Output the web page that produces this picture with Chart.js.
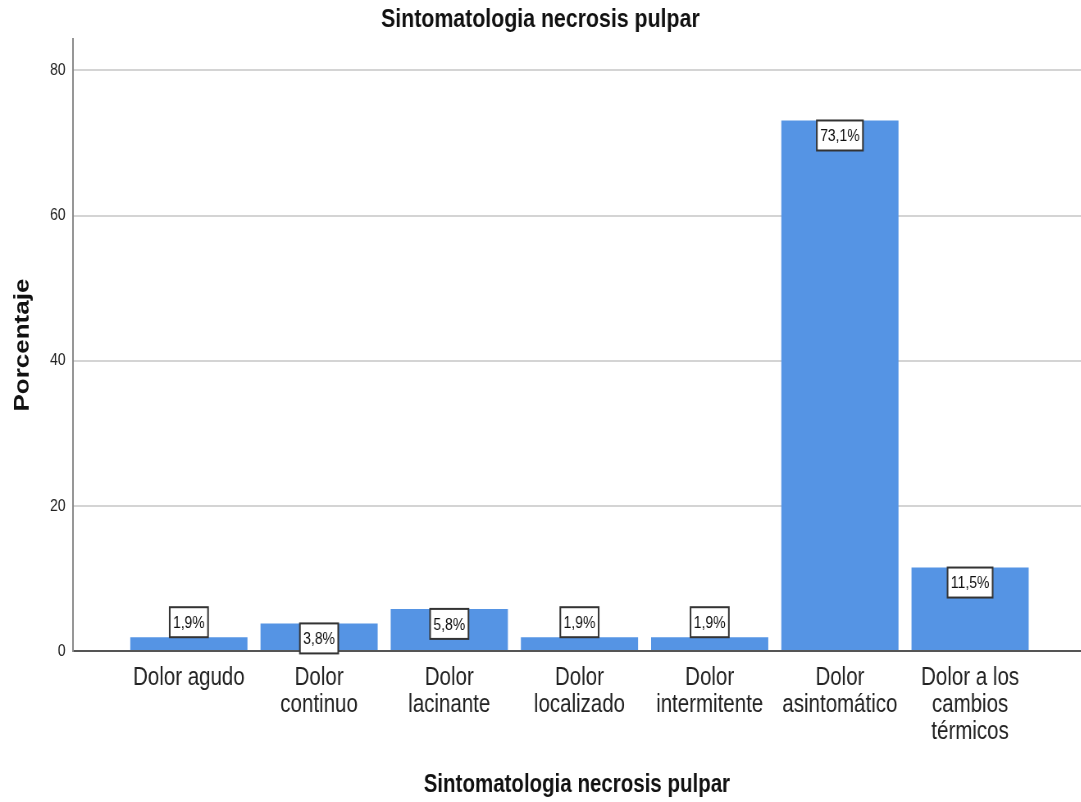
<!DOCTYPE html>
<html>
<head>
<meta charset="utf-8">
<script src="https://cdn.jsdelivr.net/npm/chart.js@4/dist/chart.umd.min.js"></script>
<style>
  html, body { margin: 0; padding: 0; background: #fff; overflow: hidden; }
  /* chart is laid out wide and squeezed horizontally, giving the condensed look */
  #wrap { width: 1318px; height: 802px; transform: scaleX(0.82); transform-origin: 0 0; }
</style>
</head>
<body>
<div id="wrap"><canvas id="chart"></canvas></div>
<script>
const categories = [
  ['Dolor agudo'],
  ['Dolor', 'continuo'],
  ['Dolor', 'lacinante'],
  ['Dolor', 'localizado'],
  ['Dolor', 'intermitente'],
  ['Dolor', 'asintomático'],
  ['Dolor a los', 'cambios', 'térmicos']
];
const percentages = [1.9, 3.8, 5.8, 1.9, 1.9, 73.1, 11.5];
const yTicks = [0, 20, 40, 60, 80];

const font = '"Liberation Sans", Arial, sans-serif';

// boxed value labels, put inside the bar top when it is tall enough
const valueBoxes = {
  id: 'valueBoxes',
  afterDatasetsDraw(chart) {
    const ctx = chart.ctx;
    const meta = chart.getDatasetMeta(0);
    ctx.save();
    ctx.font = '17px ' + font;
    ctx.textAlign = 'center';
    ctx.textBaseline = 'middle';
    meta.data.forEach((bar, i) => {
      const txt = percentages[i].toFixed(1).replace('.', ',') + '%';
      const w = ctx.measureText(txt).width + 8;
      const h = 30;
      const top = (bar.base - bar.y) >= 20 ? bar.y : bar.y - h;
      ctx.fillStyle = '#fff';
      ctx.fillRect(bar.x - w / 2, top, w, h);
      ctx.lineWidth = 2;
      ctx.strokeStyle = '#333';
      ctx.strokeRect(bar.x - w / 2, top, w, h);
      ctx.fillStyle = '#111';
      ctx.fillText(txt, bar.x, top + h / 2 + 1);
    });
    ctx.restore();
  }
};

new Chart(document.getElementById('chart'), {
  type: 'bar',
  data: {
    datasets: [{
      data: percentages.map((v, i) => ({ x: i, y: v })),
      backgroundColor: '#5594e4',
      borderWidth: 0,
      barPercentage: 0.9,
      categoryPercentage: 1
    }]
  },
  options: {
    responsive: true,
    maintainAspectRatio: false,
    animation: false,
    layout: { padding: 0 },
    plugins: {
      legend: { display: false },
      tooltip: { enabled: false },
      title: {
        display: true,
        text: 'Sintomatologia necrosis pulpar',
        color: '#111',
        font: { family: font, size: 26, weight: 'bold' },
        padding: { top: 4, bottom: 4 }
      }
    },
    scales: {
      x: {
        type: 'linear',
        offset: false,
        min: -0.89,
        max: 6.85,
        grid: { display: false, drawTicks: false, offset: false },
        border: { display: true, color: '#555', width: 2 },
        ticks: {
          stepSize: 1,
          includeBounds: false,
          autoSkip: false,
          maxRotation: 0,
          padding: 14,
          color: '#222',
          font: { family: font, size: 25, lineHeight: 1.08 },
          callback: v => (Number.isInteger(v) && categories[v]) ? categories[v] : ''
        },
        title: {
          display: true,
          text: 'Sintomatologia necrosis pulpar',
          color: '#111',
          font: { family: font, size: 25, weight: 'bold' },
          padding: { top: 0, bottom: 2 }
        },
        afterFit: s => { s.height = 151; }
      },
      y: {
        min: 0,
        max: 84.3,
        grid: { color: '#d4d4d4', lineWidth: 2, drawTicks: false },
        border: { display: true, color: '#888', width: 2 },
        ticks: {
          stepSize: 20,
          includeBounds: false,
          padding: 9,
          color: '#222',
          font: { family: font, size: 17 },
          callback: v => yTicks.includes(v) ? v : ''
        },
        title: {
          display: true,
          text: 'Porcentaje',
          color: '#111',
          font: { family: font, size: 26, weight: 'bold' },
          padding: { top: 12, bottom: 0 }
        },
        afterFit: s => { s.width = 89; }
      }
    }
  },
  plugins: [valueBoxes]
});
</script>
</body>
</html>
